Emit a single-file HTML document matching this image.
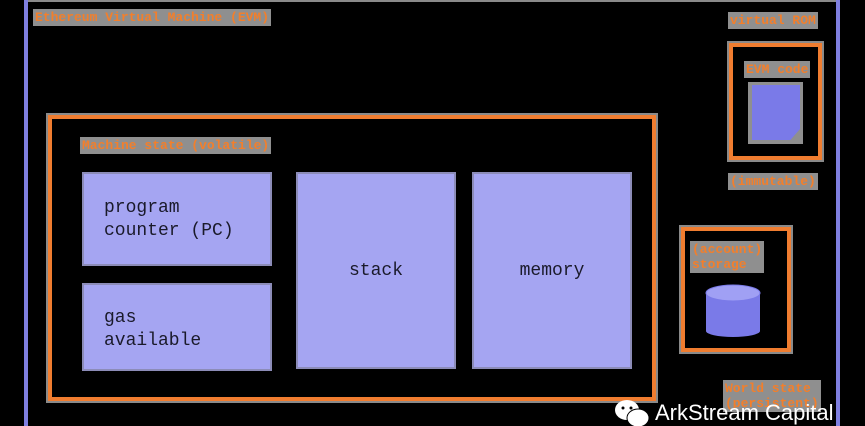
<!DOCTYPE html>
<html><head><style>
body{margin:0;width:865px;height:426px;background:#000;position:relative;overflow:hidden;font-family:"Liberation Mono",monospace}
.a{position:absolute;box-sizing:border-box}
.lab{position:absolute;background:#8f8f8f;color:#f27f2c;font:bold 13px "Liberation Mono",monospace;line-height:15px;padding:1px 2px;white-space:nowrap}
.bx{position:absolute;box-sizing:border-box;background:#a5a5f2;border:2px solid #8c8cb8;color:#1a1a2a;font:18px "Liberation Mono",monospace}
.or{position:absolute;box-sizing:border-box;border:4px solid #f07d30;outline:2px solid #8a8a8a}
</style></head><body>
<div class="a" style="left:24px;top:0;width:4px;height:426px;background:#7f7fe0"></div>
<div class="a" style="left:836px;top:0;width:4px;height:426px;background:#7f7fe0"></div>
<div class="a" style="left:28px;top:0;width:808px;height:2px;background:#8a8a8a"></div>
<div class="lab" style="left:33px;top:9px">Ethereum Virtual Machine (EVM)</div>

<div class="or" style="left:48px;top:115px;width:608px;height:286px"></div>
<div class="lab" style="left:80px;top:137px">Machine state (volatile)</div>
<div class="bx" style="left:82px;top:172px;width:190px;height:94px;padding:23px 0 0 20px;line-height:23px">program<br>counter (PC)</div>
<div class="bx" style="left:82px;top:283px;width:190px;height:88px;padding:22px 0 0 20px;line-height:23px">gas<br>available</div>
<div class="bx" style="left:296px;top:172px;width:160px;height:197px;text-align:center;line-height:195px">stack</div>
<div class="bx" style="left:472px;top:172px;width:160px;height:197px;text-align:center;line-height:195px">memory</div>

<div class="lab" style="left:728px;top:12px">virtual ROM</div>
<div class="or" style="left:729px;top:43px;width:93px;height:117px"></div>
<div class="lab" style="left:744px;top:61px">EVM code</div>
<div class="a" style="left:748px;top:82px;width:55px;height:62px;background:#8f8f8f"></div>
<div class="a" style="left:752px;top:85px;width:48px;height:55px;background:#7a7ae8;clip-path:polygon(0 0,100% 0,100% 80%,80% 100%,0 100%)"></div>
<div class="lab" style="left:728px;top:173px">(immutable)</div>

<div class="or" style="left:681px;top:227px;width:110px;height:125px"></div>
<div class="lab" style="left:690px;top:241px">(account)<br>storage</div>
<svg class="a" style="left:703px;top:283px" width="60" height="56"><rect x="3" y="8" width="54" height="40" fill="#7a7ae8"/><ellipse cx="30" cy="48" rx="27" ry="6" fill="#7a7ae8"/><ellipse cx="30" cy="10" rx="27" ry="8" fill="#a0a0f4" stroke="#7a7ae8"/></svg>
<div class="lab" style="left:723px;top:380px">World state<br>(persistent)</div>

<svg class="a" style="left:613px;top:398px" width="40" height="28"><ellipse cx="14" cy="12" rx="12" ry="10" fill="#fff"/><ellipse cx="25" cy="20" rx="11" ry="9" fill="#fff" stroke="#000"/><circle cx="10" cy="10" r="1.5" fill="#000"/><circle cx="18" cy="10" r="1.5" fill="#000"/></svg>
<div class="a" style="left:655px;top:400px;color:#fff;font:22px 'Liberation Sans',sans-serif;line-height:26px">ArkStream Capital</div>
</body></html>
